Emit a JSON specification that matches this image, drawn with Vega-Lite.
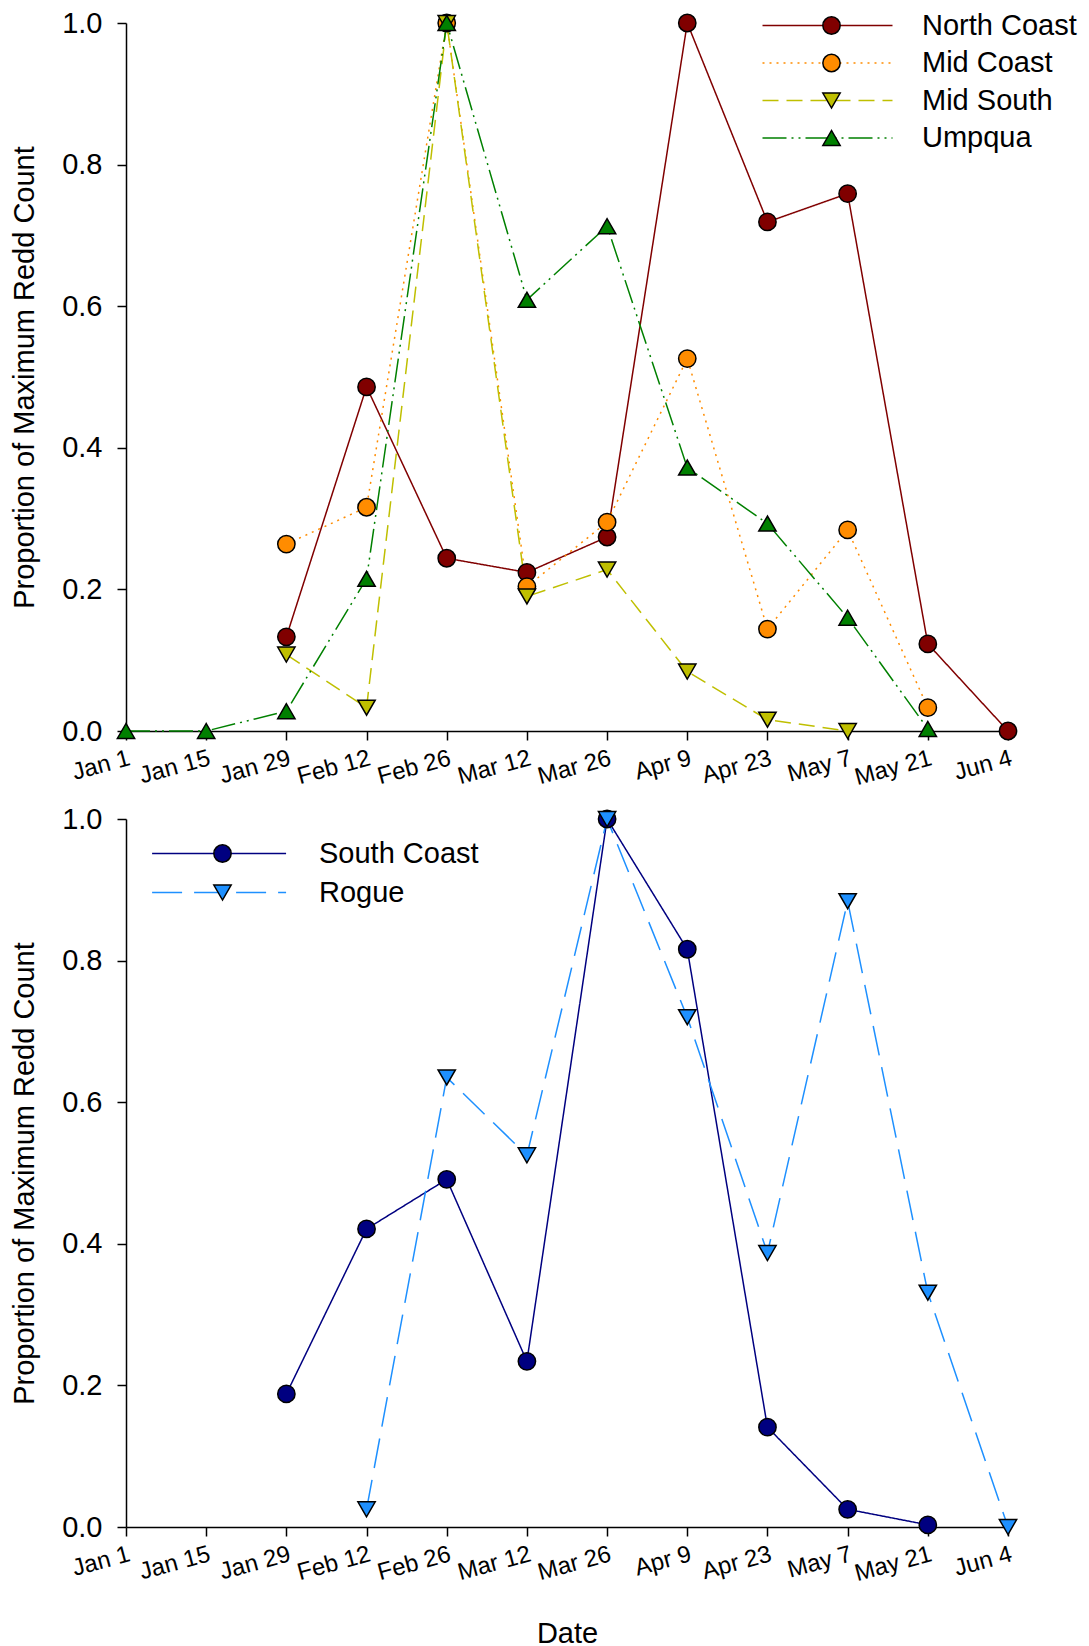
{
  "$schema": "https://vega.github.io/schema/vega-lite/v6.json",
  "autosize": {"type": "pad"},
  "padding": {"left": 10, "top": -3, "right": 0, "bottom": 0},
  "background": "white",
  "config": {
    "font": "Liberation Sans",
    "view": {"stroke": null},
    "axis": {
      "grid": false,
      "domainColor": "black",
      "domainWidth": 1.5,
      "tickColor": "black",
      "tickWidth": 1.5,
      "tickSize": 9,
      "labelColor": "black",
      "titleColor": "black",
      "titleFontWeight": "normal",
      "titleFontSize": 29,
      "labelFontSize": 29,
      "labelFont": "Liberation Sans",
      "titleFont": "Liberation Sans"
    },
    "legend": {"labelFont": "Liberation Sans", "labelColor": "black"}
  },
  "spacing": 88,
  "bounds": "flush",
  "resolve": {"scale": {"stroke": "independent", "strokeDash": "independent", "fill": "independent", "shape": "independent"}},
  "datasets": {
    "top": [
      {"date": "2001-01-29", "series": "North Coast", "v": 0.133},
      {"date": "2001-02-12", "series": "North Coast", "v": 0.486},
      {"date": "2001-02-26", "series": "North Coast", "v": 0.244},
      {"date": "2001-03-12", "series": "North Coast", "v": 0.224},
      {"date": "2001-03-26", "series": "North Coast", "v": 0.274},
      {"date": "2001-04-09", "series": "North Coast", "v": 1.0},
      {"date": "2001-04-23", "series": "North Coast", "v": 0.719},
      {"date": "2001-05-07", "series": "North Coast", "v": 0.759},
      {"date": "2001-05-21", "series": "North Coast", "v": 0.123},
      {"date": "2001-06-04", "series": "North Coast", "v": 0.0},
      {"date": "2001-01-29", "series": "Mid Coast", "v": 0.264},
      {"date": "2001-02-12", "series": "Mid Coast", "v": 0.316},
      {"date": "2001-02-26", "series": "Mid Coast", "v": 1.0},
      {"date": "2001-03-12", "series": "Mid Coast", "v": 0.204},
      {"date": "2001-03-26", "series": "Mid Coast", "v": 0.295},
      {"date": "2001-04-09", "series": "Mid Coast", "v": 0.526},
      {"date": "2001-04-23", "series": "Mid Coast", "v": 0.144},
      {"date": "2001-05-07", "series": "Mid Coast", "v": 0.284},
      {"date": "2001-05-21", "series": "Mid Coast", "v": 0.033},
      {"date": "2001-01-29", "series": "Mid South", "v": 0.108},
      {"date": "2001-02-12", "series": "Mid South", "v": 0.033},
      {"date": "2001-02-26", "series": "Mid South", "v": 1.0},
      {"date": "2001-03-12", "series": "Mid South", "v": 0.19},
      {"date": "2001-03-26", "series": "Mid South", "v": 0.228},
      {"date": "2001-04-09", "series": "Mid South", "v": 0.084},
      {"date": "2001-04-23", "series": "Mid South", "v": 0.016},
      {"date": "2001-05-07", "series": "Mid South", "v": 0.0},
      {"date": "2001-01-01", "series": "Umpqua", "v": 0.0},
      {"date": "2001-01-15", "series": "Umpqua", "v": 0.0},
      {"date": "2001-01-29", "series": "Umpqua", "v": 0.028},
      {"date": "2001-02-12", "series": "Umpqua", "v": 0.215},
      {"date": "2001-02-26", "series": "Umpqua", "v": 1.0},
      {"date": "2001-03-12", "series": "Umpqua", "v": 0.609},
      {"date": "2001-03-26", "series": "Umpqua", "v": 0.713},
      {"date": "2001-04-09", "series": "Umpqua", "v": 0.372},
      {"date": "2001-04-23", "series": "Umpqua", "v": 0.293},
      {"date": "2001-05-07", "series": "Umpqua", "v": 0.16},
      {"date": "2001-05-21", "series": "Umpqua", "v": 0.003}
    ],
    "bottom": [
      {"date": "2001-01-29", "series": "South Coast", "v": 0.188},
      {"date": "2001-02-12", "series": "South Coast", "v": 0.421},
      {"date": "2001-02-26", "series": "South Coast", "v": 0.491},
      {"date": "2001-03-12", "series": "South Coast", "v": 0.234},
      {"date": "2001-03-26", "series": "South Coast", "v": 1.0},
      {"date": "2001-04-09", "series": "South Coast", "v": 0.816},
      {"date": "2001-04-23", "series": "South Coast", "v": 0.141},
      {"date": "2001-05-07", "series": "South Coast", "v": 0.025},
      {"date": "2001-05-21", "series": "South Coast", "v": 0.003},
      {"date": "2001-02-12", "series": "Rogue", "v": 0.025},
      {"date": "2001-02-26", "series": "Rogue", "v": 0.635},
      {"date": "2001-03-12", "series": "Rogue", "v": 0.525},
      {"date": "2001-03-26", "series": "Rogue", "v": 1.0},
      {"date": "2001-04-09", "series": "Rogue", "v": 0.72},
      {"date": "2001-04-23", "series": "Rogue", "v": 0.387},
      {"date": "2001-05-07", "series": "Rogue", "v": 0.884},
      {"date": "2001-05-21", "series": "Rogue", "v": 0.331},
      {"date": "2001-06-04", "series": "Rogue", "v": 0.0}
    ]
  },
  "vconcat": [
    {
      "width": 882,
      "height": 708,
      "data": {"name": "top"},
      "encoding": {
        "x": {
          "field": "date", "type": "temporal",
          "scale": {"type": "utc", "domain": [{"year": 2001, "month": 1, "date": 1, "utc": true}, {"year": 2001, "month": 6, "date": 4, "utc": true}]},
          "axis": {
            "title": null, "format": "%b %-d", "labelAngle": -15, "labelFontSize": 24, "labelPadding": 6, "labelOverlap": false, "labelBound": false,
            "values": [
              {"year": 2001, "month": 1, "date": 1, "utc": true}, {"year": 2001, "month": 1, "date": 15, "utc": true},
              {"year": 2001, "month": 1, "date": 29, "utc": true}, {"year": 2001, "month": 2, "date": 12, "utc": true},
              {"year": 2001, "month": 2, "date": 26, "utc": true}, {"year": 2001, "month": 3, "date": 12, "utc": true},
              {"year": 2001, "month": 3, "date": 26, "utc": true}, {"year": 2001, "month": 4, "date": 9, "utc": true},
              {"year": 2001, "month": 4, "date": 23, "utc": true}, {"year": 2001, "month": 5, "date": 7, "utc": true},
              {"year": 2001, "month": 5, "date": 21, "utc": true}, {"year": 2001, "month": 6, "date": 4, "utc": true}
            ]
          }
        },
        "y": {
          "field": "v", "type": "quantitative",
          "scale": {"domain": [0, 1], "nice": false},
          "axis": {"title": "Proportion of Maximum Redd Count", "values": [0, 0.2, 0.4, 0.6, 0.8, 1.0], "format": ".1f", "labelPadding": 15, "titlePadding": 22}
        }
      },
      "layer": [
        {
          "data": {"values": [{"edge": "right"}]},
          "mark": {"type": "rule", "color": "black", "strokeWidth": 1.5},
          "encoding": {
            "x": {"datum": {"year": 2001, "month": 6, "date": 4, "utc": true}, "type": "temporal"},
            "y": null
          }
        },
        {
          "mark": {"type": "line", "strokeWidth": 1.5},
          "encoding": {
            "stroke": {
              "field": "series", "type": "nominal",
              "scale": {"domain": ["North Coast", "Mid Coast", "Mid South", "Umpqua"], "range": ["#800000", "#FF8C00", "#BFBF00", "#008000"]},
              "legend": {"orient": "none", "legendX": 621, "legendY": -26, "title": null, "symbolType": "M-1,0H9", "symbolSize": 676, "symbolStrokeWidth": 1.5, "labelFontSize": 29, "labelExpr": "''", "labelOffset": 280, "rowPadding": 7.5, "padding": 14, "fillColor": "white", "zindex": 0}
            },
            "strokeDash": {
              "field": "series", "type": "nominal",
              "scale": {"domain": ["North Coast", "Mid Coast", "Mid South", "Umpqua"], "range": [[1, 0], [2, 5], [16, 8], [24, 5, 2, 5, 2, 5]]},
              "legend": {"orient": "none", "legendX": 621, "legendY": -26, "title": null, "symbolType": "M-1,0H9", "symbolSize": 676, "symbolStrokeWidth": 1.5, "labelFontSize": 29, "labelExpr": "''", "labelOffset": 280, "rowPadding": 7.5, "padding": 14, "fillColor": "white", "zindex": 0}
            }
          }
        },
        {
          "mark": {"type": "point", "filled": true, "stroke": "black", "strokeWidth": 1.5, "size": 300, "opacity": 1},
          "encoding": {
            "fill": {
              "field": "series", "type": "nominal",
              "sort": null,
              "scale": {"range": ["#800000", "#FF8C00", "#BFBF00", "#008000"]},
              "legend": {"orient": "none", "legendX": 683, "legendY": -20, "title": null, "symbolSize": 300, "symbolStrokeWidth": 1.5, "labelFontSize": 29, "labelOffset": 76, "rowPadding": 7.5, "padding": 8, "zindex": 1}
            },
            "shape": {
              "field": "series", "type": "nominal",
              "sort": null,
              "scale": {"range": ["circle", "circle", "triangle-down", "triangle-up"]},
              "legend": {"orient": "none", "legendX": 683, "legendY": -20, "title": null, "symbolSize": 300, "symbolStrokeWidth": 1.5, "labelFontSize": 29, "labelOffset": 76, "rowPadding": 7.5, "padding": 8, "zindex": 1}
            }
          }
        }
      ]
    },
    {
      "width": 882,
      "height": 708,
      "data": {"name": "bottom"},
      "encoding": {
        "x": {
          "field": "date", "type": "temporal",
          "scale": {"type": "utc", "domain": [{"year": 2001, "month": 1, "date": 1, "utc": true}, {"year": 2001, "month": 6, "date": 4, "utc": true}]},
          "axis": {
            "title": "Date", "titlePadding": 34, "format": "%b %-d", "labelAngle": -15, "labelFontSize": 24, "labelPadding": 6, "labelOverlap": false, "labelBound": false,
            "values": [
              {"year": 2001, "month": 1, "date": 1, "utc": true}, {"year": 2001, "month": 1, "date": 15, "utc": true},
              {"year": 2001, "month": 1, "date": 29, "utc": true}, {"year": 2001, "month": 2, "date": 12, "utc": true},
              {"year": 2001, "month": 2, "date": 26, "utc": true}, {"year": 2001, "month": 3, "date": 12, "utc": true},
              {"year": 2001, "month": 3, "date": 26, "utc": true}, {"year": 2001, "month": 4, "date": 9, "utc": true},
              {"year": 2001, "month": 4, "date": 23, "utc": true}, {"year": 2001, "month": 5, "date": 7, "utc": true},
              {"year": 2001, "month": 5, "date": 21, "utc": true}, {"year": 2001, "month": 6, "date": 4, "utc": true}
            ]
          }
        },
        "y": {
          "field": "v", "type": "quantitative",
          "scale": {"domain": [0, 1], "nice": false},
          "axis": {"title": "Proportion of Maximum Redd Count", "values": [0, 0.2, 0.4, 0.6, 0.8, 1.0], "format": ".1f", "labelPadding": 15, "titlePadding": 22}
        }
      },
      "layer": [
        {
          "data": {"values": [{"edge": "right"}]},
          "mark": {"type": "rule", "color": "black", "strokeWidth": 1.5},
          "encoding": {
            "x": {"datum": {"year": 2001, "month": 6, "date": 4, "utc": true}, "type": "temporal"},
            "y": null
          }
        },
        {
          "mark": {"type": "line", "strokeWidth": 1.5},
          "encoding": {
            "stroke": {
              "field": "series", "type": "nominal",
              "scale": {"domain": ["South Coast", "Rogue"], "range": ["#000080", "#1E90FF"]},
              "legend": {"orient": "none", "legendX": 17, "legendY": 12, "title": null, "symbolType": "M-1,0H9", "symbolSize": 718, "symbolStrokeWidth": 1.5, "labelFontSize": 29, "labelExpr": "''", "labelOffset": 10, "rowPadding": 9, "padding": 8, "zindex": 0}
            },
            "strokeDash": {
              "field": "series", "type": "nominal",
              "scale": {"domain": ["South Coast", "Rogue"], "range": [[1, 0], [30, 12]]},
              "legend": {"orient": "none", "legendX": 17, "legendY": 12, "title": null, "symbolType": "M-1,0H9", "symbolSize": 718, "symbolStrokeWidth": 1.5, "labelFontSize": 29, "labelExpr": "''", "labelOffset": 10, "rowPadding": 9, "padding": 8, "zindex": 0}
            }
          }
        },
        {
          "mark": {"type": "point", "filled": true, "stroke": "black", "strokeWidth": 1.5, "size": 300, "opacity": 1},
          "encoding": {
            "fill": {
              "field": "series", "type": "nominal",
              "sort": null,
              "scale": {"range": ["#000080", "#1E90FF"]},
              "legend": {"orient": "none", "legendX": 74, "legendY": 12, "title": null, "symbolSize": 300, "symbolStrokeWidth": 1.5, "labelFontSize": 29, "labelOffset": 82, "rowPadding": 9, "padding": 8, "zindex": 1}
            },
            "shape": {
              "field": "series", "type": "nominal",
              "sort": null,
              "scale": {"range": ["circle", "triangle-down"]},
              "legend": {"orient": "none", "legendX": 74, "legendY": 12, "title": null, "symbolSize": 300, "symbolStrokeWidth": 1.5, "labelFontSize": 29, "labelOffset": 82, "rowPadding": 9, "padding": 8, "zindex": 1}
            }
          }
        }
      ]
    }
  ]
}
